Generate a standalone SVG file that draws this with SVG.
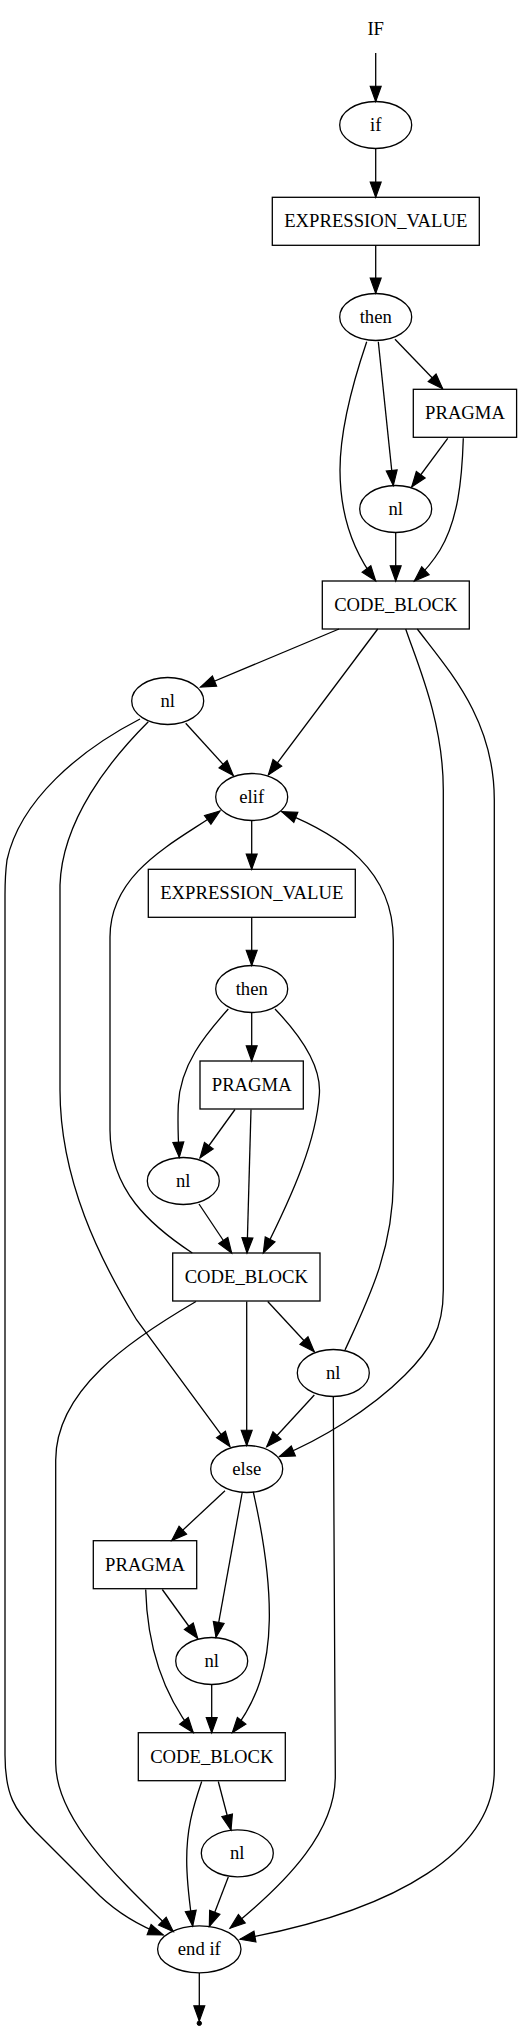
<svg xmlns="http://www.w3.org/2000/svg" width="522" height="2031" viewBox="0 0 522 2031">
<style>
.n ellipse, .n rect { fill: none; stroke: #000; stroke-width: 1.3; }
.n text, text.lbl { font-family: "Liberation Serif", "Times New Roman", serif; font-size: 18.67px; text-anchor: middle; fill: #000; }
#edges path { fill: none; stroke: #000; stroke-width: 1.3; marker-end: url(#ah); }
</style>
<defs>
<marker id="ah" markerUnits="userSpaceOnUse" markerWidth="16" markerHeight="12" viewBox="0 0 14 10" refX="13.3" refY="5" orient="auto" overflow="visible">
<path d="M0,0.2 L13.3,5 L0,9.8 Z" fill="#000" stroke="#000" stroke-width="1"/>
</marker>
</defs>
<rect width="522" height="2031" fill="#fff"/>
<g id="edges">
<path d="M375.7,53 V101.5"/>
<path d="M375.7,148.5 V197.3"/>
<path d="M375.7,245.3 V293.3"/>
<path d="M395,339.3 L442.7,388.7"/>
<path d="M378.3,341.7 L393.3,485.5"/>
<path d="M447.7,438.3 L411.7,487"/>
<path d="M366.7,341.7 C352,385 340,430 340,470 C340,515 352,550 375.7,581"/>
<path d="M463.3,438.3 C462,480 458,520 440,550 C432,563 424,572 414.3,581"/>
<path d="M395.7,532.5 V581"/>
<path d="M339,629 L200.5,687"/>
<path d="M377.7,629 L268.3,775"/>
<path d="M185.7,723.3 L233.3,775.5"/>
<path d="M140,719 C80,750 20,800 7,860 C5,875 5,885 5,895 V1755 C5,1795 15,1810 35,1831 L100,1896 C120,1915 140,1926 163.3,1935"/>
<path d="M148.3,721.7 C110,760 62,820 60,885 L60,1090 C60,1180 100,1260 136.7,1320 L230,1446.7"/>
<path d="M405.7,629 C416,660 443.3,720 443.3,790 L443.3,1290 C443.3,1330 430,1350 405,1375 C370,1410 320,1440 279.3,1456.7"/>
<path d="M417.3,629 C450,672 494.3,720 494.3,800 V1770 C494.3,1850 400,1910 240,1939.3"/>
<path d="M251.7,820.5 V869.3"/>
<path d="M251.7,917.3 V965.5"/>
<path d="M251.7,1012.5 V1061"/>
<path d="M228.3,1009 C205,1035 180,1065 178.3,1105 C177.5,1125 178.5,1145 179.3,1157.4"/>
<path d="M235,1109.5 L200,1158"/>
<path d="M251,1109.5 L247,1253"/>
<path d="M275,1009 C300,1035 322,1065 319.3,1095 C316,1140 295,1190 263.3,1253"/>
<path d="M199,1204 L231.7,1253"/>
<path d="M192.3,1253 C150,1225 110,1190 110,1130 L110,937 C110,870 180,840 220,811"/>
<path d="M345,1350 C368,1300 393.3,1250 393.3,1180 L393.3,940 C393.3,870 340,835 281.7,811.7"/>
<path d="M267.7,1301.5 L314.3,1351.7"/>
<path d="M246.7,1301.5 V1445.5"/>
<path d="M314.3,1395 L266.7,1446.7"/>
<path d="M196,1301.5 C130,1340 55.7,1390 55.7,1460 L55.7,1763 C55.7,1820 120,1880 173.3,1931.7"/>
<path d="M333.3,1396.5 L335.3,1775 C336,1830 290,1880 230,1928.3"/>
<path d="M225,1490.7 L171.7,1540.5"/>
<path d="M242.3,1492 L216,1637.4"/>
<path d="M253.3,1492 C263,1535 270,1580 269.3,1620 C268.5,1665 258,1700 232.3,1732.7"/>
<path d="M162.3,1589.5 L197.7,1638.5"/>
<path d="M145.7,1589.5 C147,1640 160,1690 193.3,1732.7"/>
<path d="M211.7,1684.5 V1732.7"/>
<path d="M218.3,1781.5 L231,1830"/>
<path d="M201.7,1781.5 C192,1810 186.7,1830 186.7,1860 C186.7,1885 190,1905 192.7,1926"/>
<path d="M228.3,1877 L209.3,1926.5"/>
<path d="M199.3,1973 V2021"/>
</g>
<g id="IF" class="n"><text x="375.7" y="34.5">IF</text></g>
<g id="if" class="n"><ellipse cx="375.7" cy="125" rx="36" ry="23.5"/><text x="375.7" y="130.8">if</text></g>
<g id="ev1" class="n"><rect x="272.3" y="197.3" width="207" height="48"/><text x="375.8" y="227.1">EXPRESSION_VALUE</text></g>
<g id="then1" class="n"><ellipse cx="375.7" cy="317" rx="36" ry="23.5"/><text x="375.7" y="322.8">then</text></g>
<g id="pragma1" class="n"><rect x="413.3" y="389.3" width="103.3" height="48"/><text x="465" y="419.1">PRAGMA</text></g>
<g id="nl1" class="n"><ellipse cx="395.7" cy="509" rx="36" ry="23.5"/><text x="395.7" y="514.8">nl</text></g>
<g id="cb1" class="n"><rect x="322.3" y="581" width="147" height="48"/><text x="395.8" y="610.8">CODE_BLOCK</text></g>
<g id="nl_a" class="n"><ellipse cx="167.7" cy="701" rx="36" ry="23.5"/><text x="167.7" y="706.8">nl</text></g>
<g id="elif" class="n"><ellipse cx="251.7" cy="797" rx="36" ry="23.5"/><text x="251.7" y="802.8">elif</text></g>
<g id="ev2" class="n"><rect x="148.3" y="869.3" width="207" height="48"/><text x="251.8" y="899.1">EXPRESSION_VALUE</text></g>
<g id="then2" class="n"><ellipse cx="251.7" cy="989" rx="36" ry="23.5"/><text x="251.7" y="994.8">then</text></g>
<g id="pragma2" class="n"><rect x="200" y="1061" width="103.3" height="48"/><text x="251.7" y="1090.8">PRAGMA</text></g>
<g id="nl3" class="n"><ellipse cx="183.3" cy="1181" rx="36" ry="23.5"/><text x="183.3" y="1186.8">nl</text></g>
<g id="cb2" class="n"><rect x="172.7" y="1253" width="147.3" height="48"/><text x="246.3" y="1282.8">CODE_BLOCK</text></g>
<g id="nl2" class="n"><ellipse cx="333.3" cy="1373" rx="36" ry="23.5"/><text x="333.3" y="1378.8">nl</text></g>
<g id="else" class="n"><ellipse cx="246.7" cy="1469" rx="36" ry="23.5"/><text x="246.7" y="1474.8">else</text></g>
<g id="pragma3" class="n"><rect x="93.3" y="1540.7" width="103.4" height="48"/><text x="145" y="1570.5">PRAGMA</text></g>
<g id="nl4" class="n"><ellipse cx="211.7" cy="1661" rx="36" ry="23.5"/><text x="211.7" y="1666.8">nl</text></g>
<g id="cb3" class="n"><rect x="138.3" y="1732.7" width="147" height="48"/><text x="211.8" y="1762.5">CODE_BLOCK</text></g>
<g id="nl5" class="n"><ellipse cx="237.3" cy="1853.3" rx="36" ry="23.5"/><text x="237.3" y="1859.1">nl</text></g>
<g id="endif" class="n"><ellipse cx="199.3" cy="1949.3" rx="41.7" ry="23.5"/><text x="199.3" y="1955.1">end if</text></g>
<g id="end" class="n"><circle cx="199.3" cy="2023.3" r="2.2" fill="#000" stroke="#000"/></g>
</svg>
